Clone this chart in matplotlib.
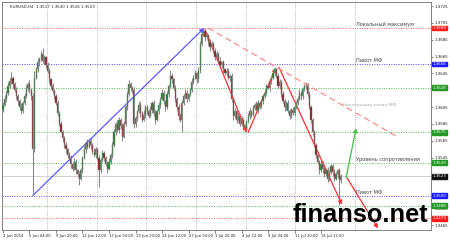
import numpy as np
import matplotlib
matplotlib.use("Agg")
import matplotlib.pyplot as plt
from matplotlib.transforms import blended_transform_factory

# EURUSD H4 from 2 Jun 2014 12:00, prices in 1e-4 units (13602 -> 1.3602)
open_first = 13602
closes = [13608, 13615, 13622, 13630, 13636, 13640, 13632, 13625, 13618, 13612,
          13605, 13600, 13610, 13618, 13628, 13633, 13625, 13618,
          13555,
          13640,
          13650, 13658, 13662, 13668, 13660, 13664, 13655, 13648,
          13638, 13630, 13624, 13618,
          13610, 13598, 13585, 13576, 13568, 13560,
          13555, 13548, 13545, 13538, 13532, 13540, 13530, 13525, 13520, 13530,
          13545, 13555, 13562, 13558, 13565, 13560, 13552, 13548, 13555, 13545,
          13530, 13542, 13550, 13545, 13538, 13532, 13540, 13548,
          13560, 13575, 13585, 13578, 13590, 13582, 13570, 13585,
          13605, 13620, 13632, 13628, 13625,
          13585,
          13592, 13600, 13608, 13598, 13590, 13596, 13605, 13600,
          13595, 13602, 13610, 13598, 13590, 13600,
          13608, 13615, 13622, 13612, 13605, 13620,
          13630, 13642, 13638, 13628,
          13615, 13605, 13595, 13590,
          13610,
          13618, 13622, 13615, 13620, 13625,
          13635, 13640, 13645, 13638,
          13648,
          13680, 13692,
          13695, 13688, 13690, 13682, 13676, 13680, 13672, 13665,
          13668, 13660, 13655, 13658, 13650, 13645, 13648, 13640, 13642,
          13615, 13595,
          13600, 13590, 13595, 13585, 13590, 13582, 13580,
          13588, 13595, 13600, 13596, 13604, 13608, 13602, 13610, 13606, 13612, 13618,
          13622, 13630, 13628, 13636, 13640, 13645, 13650,
          13642, 13630, 13635, 13620, 13612, 13605, 13610, 13600, 13595, 13602, 13598, 13605, 13610,
          13615, 13622, 13618, 13626, 13630, 13632,
          13620, 13605, 13590, 13575, 13560, 13548,
          13540, 13530, 13538, 13532, 13525, 13530, 13520, 13528, 13535, 13528, 13520, 13525, 13530, 13518, 13523]
# shadows above / below the body, pips
wick_up = [3, 4, 2, 5, 3, 7, 2, 3, 4, 2,
           3, 5, 2, 4, 3, 2, 4, 3,
           4,
           8,
           3, 5, 2, 4, 7, 3, 2, 4,
           3, 2, 4, 3,
           2, 3, 2, 4, 2, 3,
           3, 2, 4, 3, 2, 5, 3, 2, 4, 3,
           2, 4, 3, 5, 2, 3, 2, 4, 3, 2,
           3, 2, 4, 3, 2, 3, 5, 2,
           3, 4, 2, 5, 3, 2, 4, 3,
           3, 4, 5, 3, 2,
           4,
           3, 2, 4, 3, 2, 5, 3, 2,
           3, 4, 2, 3, 4, 2,
           3, 2, 5, 3, 2, 4,
           3, 7, 4, 2,
           3, 2, 4, 3,
           3,
           2, 4, 3, 2, 3,
           4, 3, 4, 2,
           5,
           3, 4,
           4, 2, 3, 2, 4, 3, 2, 3,
           3, 2, 4, 2, 3, 2, 3, 4, 2,
           3, 2,
           4, 2, 3, 2, 4, 2, 3,
           2, 3, 4, 2, 3, 2, 4, 3, 2, 3, 2,
           3, 2, 4, 3, 2, 3, 2,
           2, 4, 3, 2, 4, 3, 2, 4, 3, 2, 3, 4, 2,
           3, 4, 2, 3, 2, 3,
           2, 4, 3, 2, 3, 2,
           3, 2, 4, 3, 2, 3, 4, 2, 3, 2, 4, 3, 2, 3, 2]
wick_dn = [3, 2, 4, 3, 2, 3, 4, 2, 3, 4,
           4, 3, 2, 3, 2, 4, 3, 5,
           52,
           3,
           2, 3, 4, 2, 3, 4, 3, 2,
           4, 3, 2, 3,
           3, 4, 3, 2, 4, 3,
           4, 3, 2, 5, 3, 2, 4, 3, 8, 2,
           3, 2, 4, 3, 2, 5, 3, 2, 4, 3,
           20, 3, 2, 4, 3, 5, 2, 3,
           4, 2, 3, 2, 4, 3, 5, 2,
           2, 3, 2, 4, 3,
           5,
           4, 3, 2, 5, 3, 2, 4, 3,
           3, 2, 4, 3, 5, 2,
           3, 4, 2, 3, 5, 2,
           3, 2, 4, 3,
           4, 3, 5, 3,
           15,
           3, 2, 4, 3, 2,
           2, 3, 2, 4,
           3,
           2, 3,
           3, 4, 2, 3, 4, 2, 3, 4,
           3, 4, 2, 3, 4, 2, 3, 2, 4,
           4, 5,
           3, 4, 2, 3, 2, 4, 5,
           3, 2, 4, 3, 2, 3, 2, 4, 3, 2, 3,
           2, 3, 2, 4, 3, 2, 3,
           3, 2, 4, 3, 2, 5, 3, 2, 4, 3, 2, 3, 2,
           3, 2, 4, 3, 2, 3,
           3, 2, 4, 3, 2, 4,
           3, 4, 2, 5, 3, 2, 4, 3, 2, 5, 3, 2, 4, 29, 3]

date_bars = [0, 16, 32, 48, 64, 80, 96, 112, 128, 144, 160, 176, 192]
date_labels = ["2 Jun 2014", "5 Jun 04:00", "9 Jun 20:00", "12 Jun 12:00",
               "17 Jun 04:00", "19 Jun 20:00", "24 Jun 12:00", "27 Jun 04:00",
               "1 Jul 20:00", "4 Jul 12:00", "9 Jul 04:00", "11 Jul 20:00",
               "16 Jul 12:00"]
grid_bars = [26.5, 56.5, 86.5, 116.5, 146.5, 176.5, 212.5]
# ticks hidden under the coloured price boxes are left out
price_ticks = [1.3725, 1.3705, 1.3685, 1.3665, 1.3645, 1.3605,
               1.3585, 1.3565, 1.3545, 1.3485, 1.3465]

levels = [1.3699, 1.3656, 1.3628, 1.3575, 1.3539, 1.3500, 1.3488, 1.3473]
level_kind = ["r", "b", "g", "g", "g", "b", "g", "r"]
level_notes = {1.3699: "Локальный максимум", 1.3656: "Пивот МФ",
               1.3539: "Уровень сопротивления", 1.3500: "Пивот МФ"}
bid = 1.3523
title = "EURUSD,H4  1.3517 1.3530 1.3516 1.3523"

# trend lines: (bars, prices)
blue_trend = ([18, 121.5], [1.3500, 1.3699])
red_moves = [([122, 147.3], [1.3697, 1.3575]),
             ([148, 164.9], [1.3575, 1.3652]),
             ([166.7, 204.7], [1.3652, 1.3489]),
             ([207.7, 226.4], [1.3521, 1.3461])]
green_move = ([207.1, 213.2], [1.3521, 1.3580])
channel = ([123.8, 237.9], [1.3699, 1.3570])

line_col = {"r": "#ff5a5a", "b": "#4a4aff", "g": "#4cbf4c"}
box_col = {"r": "#ff1a1a", "b": "#1a1aff", "g": "#229922"}


def arrow(ax, xs, ys, color):
    ax.annotate("", xy=(xs[1], ys[1]), xytext=(xs[0], ys[0]),
                arrowprops=dict(arrowstyle="-|>", color=color, lw=0.9,
                                mutation_scale=6, shrinkA=0, shrinkB=0))


def draw_candles(ax):
    c = np.array(closes) / 1e4
    o = np.concatenate([[open_first / 1e4], c[:-1]])
    hi = np.maximum(o, c) + np.array(wick_up) / 1e4
    lo = np.minimum(o, c) - np.array(wick_dn) / 1e4
    x = np.arange(len(c))
    ax.vlines(x, lo, hi, color="#8a8a8a", lw=0.8, zorder=3)
    up = c >= o
    ax.bar(x[up], (c - o)[up], bottom=o[up], width=0.7, color="#1f7a1f",
           edgecolor="#8a8a8a", linewidth=0.3, zorder=4)
    ax.bar(x[~up], (c - o)[~up], bottom=o[~up], width=0.7, color="#8b1a1a",
           edgecolor="#8a8a8a", linewidth=0.3, zorder=4)


fig = plt.figure(figsize=(4.5, 2.4), dpi=100)
ax = fig.add_axes([2 / 450, 10 / 240, 429 / 450, 228 / 240])
ax.set_xlim(-0.6, 258.4)
ax.set_ylim(1.345912, 1.372975)

for g in grid_bars:
    ax.axvline(g, color="#a0a0a0", lw=0.6, ls=(0, (1, 1.5)), zorder=1)

for lv, k in zip(levels, level_kind):
    ax.axhline(lv, color=line_col[k], lw=0.7, ls=(0, (1, 1.5)), zorder=2)
ax.axhline(bid, color="#c8c8c8", lw=0.6, zorder=1)

draw_candles(ax)

ax.plot(channel[0], channel[1], color="#ff8a8a", lw=0.9, ls=(0, (5, 3)), zorder=5)
arrow(ax, blue_trend[0], blue_trend[1], "#5a5aff")
for xs, ys in red_moves:
    arrow(ax, xs, ys, "#ff3030")
arrow(ax, green_move[0], green_move[1], "#40c040")

for lv, txt in level_notes.items():
    ax.text(213.2, lv + 0.00012, txt, fontsize=3.6, color="#404040",
            va="bottom", ha="left", zorder=6)
ax.text(205.3, 1.36075, "Нисходящий канал МФ", fontsize=3.2, color="#a8a8a8",
        va="center", ha="left", zorder=6)

# axes styling
for s in ax.spines.values():
    s.set_color("#707070")
    s.set_linewidth(0.6)
ax.yaxis.tick_right()
ax.set_yticks(price_ticks)
ax.set_yticklabels([f"{p:.4f}" for p in price_ticks])
ax.tick_params(axis="y", length=1.5, width=0.4, pad=1, labelsize=2.9, colors="#202020")
ax.set_xticks(date_bars)
ax.set_xticklabels(date_labels)
ax.tick_params(axis="x", length=2, width=0.4, pad=0.8, labelsize=2.7, colors="#202020")
for lab in ax.get_xticklabels():
    lab.set_horizontalalignment("left")

trans = blended_transform_factory(ax.transAxes, ax.transData)
for lv, k in zip(levels, level_kind):
    ax.text(1.004, lv, f"{lv:.4f}", transform=trans, fontsize=2.9, color="white",
            va="center", ha="left", clip_on=False, zorder=10,
            bbox=dict(boxstyle="square,pad=0.08", fc=box_col[k], ec=box_col[k]))
ax.text(1.004, bid, f"{bid:.4f}", transform=trans, fontsize=2.9, color="white",
        va="center", ha="left", clip_on=False, zorder=10,
        bbox=dict(boxstyle="square,pad=0.08", fc="#101010", ec="#101010"))

ax.text(0.018, 0.985, title, transform=ax.transAxes, fontsize=2.9,
        color="#202020", va="top", ha="left")

# watermark, kept left of the price scale
fig.text(293 / 450, 1 - 222 / 240, "finanso.net", fontsize=18.3,
         family="Liberation Sans", weight="bold", color="black", va="baseline")

fig.savefig("out.png", dpi=100, facecolor="white")
